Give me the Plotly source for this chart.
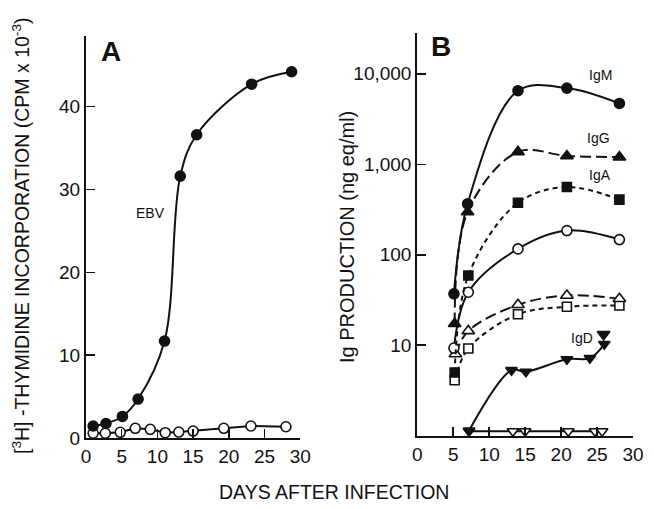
import plotly.graph_objects as go

# ---------------- Panel A data ----------------
ebv_days = [1.0, 2.8, 5.1, 7.3, 11.0, 13.2, 15.5, 23.2, 28.8]
ebv_vals = [1.45, 1.75, 2.6, 4.7, 11.7, 31.6, 36.6, 42.7, 44.2]
ctl_days = [1.0, 2.7, 4.8, 6.9, 9.0, 11.1, 13.0, 15.0, 19.3, 23.1, 28.0]
ctl_vals = [0.57, 0.57, 0.69, 1.17, 1.05, 0.64, 0.72, 0.84, 1.17, 1.45, 1.36]

# ---------------- Panel B data ----------------
igm_days = [5.1, 7.0, 14.0, 20.8, 28.1]
igm_vals = [37, 365, 6500, 6950, 4700]
igg_days = [5.2, 7.0, 14.0, 20.8, 28.1]
igg_vals = [17.3, 297, 1370, 1236, 1200]
iga_days = [5.2, 7.1, 14.0, 20.8, 28.1]
iga_vals = [5.0, 59, 375, 560, 407]
oc_days = [5.1, 7.1, 14.0, 20.8, 28.1]
oc_vals = [9.3, 38.5, 116, 185, 147]
ot_days = [5.3, 7.1, 14.0, 20.8, 28.1]
ot_vals = [8.0, 14.4, 28, 35.5, 32.6]
os_days = [5.2, 7.1, 14.0, 20.8, 28.1]
os_vals = [4.1, 9.2, 22, 26.6, 27.5]
igd_days = [7.2, 13.1, 15.1, 20.8, 24.0, 26.0]
igd_vals = [1.14, 5.3, 5.1, 7.0, 7.2, 10.3]
igd_extra_day = [25.9]
igd_extra_val = [13.2]
igdo_days = [7.2, 13.3, 15.0, 21.0, 24.7, 25.7]
igdo_vals = [1.12, 1.12, 1.12, 1.12, 1.12, 1.12]

x_ticks = [0, 5, 10, 15, 20, 25, 30]
a_yticks = [0, 10, 20, 30, 40]
b_yticks = [10, 100, 1000, 10000]
b_yticktext = ["10", "100", "1,000", "10,000"]

FONT = "Liberation Sans, Arial, Helvetica, sans-serif"
BLACK = "#111111"

fig = go.Figure()

def add(x, y, xa, ya, symbol, filled, dash="solid", size=10, lines=True, shape="spline"):
    fig.add_trace(go.Scatter(
        x=x, y=y, xaxis=xa, yaxis=ya,
        mode="lines+markers" if lines else "markers",
        line=dict(color=BLACK, width=2, dash=dash, shape=shape, smoothing=1.0),
        marker=dict(symbol=symbol, size=size,
                    color=BLACK if filled else "white",
                    line=dict(color=BLACK, width=1.6)),
        cliponaxis=False, showlegend=False))

# Panel A
add(ctl_days, ctl_vals, "x", "y", "circle", False, shape="linear", size=10)
add(ebv_days, ebv_vals, "x", "y", "circle", True, size=10)

# Panel B
add(os_days, os_vals, "x2", "y2", "square", False, dash="5px,4px", size=9)
add(ot_days, ot_vals, "x2", "y2", "triangle-up", False, dash="11px,5px", size=11)
add(oc_days, oc_vals, "x2", "y2", "circle", False, size=10)
add(iga_days, iga_vals, "x2", "y2", "square", True, dash="5px,4px", size=9)
add(igg_days, igg_vals, "x2", "y2", "triangle-up", True, dash="11px,5px", size=11)
add(igm_days, igm_vals, "x2", "y2", "circle", True, size=10)
add(igdo_days, igdo_vals, "x2", "y2", "triangle-down", False, shape="linear", size=10)
add(igd_days, igd_vals, "x2", "y2", "triangle-down", True, size=10)
add(igd_extra_day, igd_extra_val, "x2", "y2", "triangle-down", True, size=11, lines=False)

axis_common = dict(showline=True, linecolor=BLACK, linewidth=2, showgrid=False,
                   zeroline=False, ticks="inside", ticklen=9, tickwidth=1.5,
                   automargin=False,
                   tickcolor=BLACK, tickfont=dict(family=FONT, size=19, color=BLACK))

fig.update_layout(
    width=654, height=509,
    margin=dict(l=0, r=0, t=0, b=0),
    paper_bgcolor="white", plot_bgcolor="white",
    hovermode=False,
    xaxis=dict(domain=[0.1315, 0.459], range=[0, 30], tickvals=x_ticks,
               anchor="y", **axis_common),
    yaxis=dict(domain=[0.1395, 0.929], range=[0, 48.5], tickvals=a_yticks,
               anchor="x", **axis_common),
    xaxis2=dict(domain=[0.638, 0.968], range=[0, 30], tickvals=x_ticks,
                anchor="y2", **axis_common),
    yaxis2=dict(domain=[0.144, 0.935], type="log", range=[0, 4.45],
                tickvals=b_yticks, ticktext=b_yticktext, anchor="x2", **axis_common),
)

ann = [
    dict(text="<b>A</b>", x=3.5, y=46.6, xref="x", yref="y", font=dict(size=28)),
    dict(text="<b>B</b>", x=3.3, y=4.30, xref="x2", yref="y2", font=dict(size=28)),
    dict(text="EBV", x=9.0, y=27.1, xref="x", yref="y", font=dict(size=14)),
    dict(text="IgM", x=25.5, y=3.99, xref="x2", yref="y2", font=dict(size=14)),
    dict(text="IgG", x=25.2, y=3.29, xref="x2", yref="y2", font=dict(size=14)),
    dict(text="IgA", x=25.4, y=2.88, xref="x2", yref="y2", font=dict(size=14)),
    dict(text="IgD", x=22.9, y=1.08, xref="x2", yref="y2", font=dict(size=14)),
    dict(text="DAYS AFTER INFECTION", x=334 / 654, y=1 - 492 / 509,
         xref="paper", yref="paper", font=dict(size=19.5)),
    dict(text="[<sup>3</sup>H] -THYMIDINE INCORPORATION (CPM x 10<sup>-3</sup>)",
         x=21 / 654, y=1 - 236 / 509, xref="paper", yref="paper",
         textangle=-90, font=dict(size=19.5)),
    dict(text="Ig PRODUCTION (ng eq/ml)", x=347 / 654, y=1 - 237 / 509,
         xref="paper", yref="paper", textangle=-90, font=dict(size=20)),
]
for a in ann:
    a.setdefault("showarrow", False)
    a["font"] = dict(family=FONT, color=BLACK, **a["font"])
    a["xanchor"] = "center"
    a["yanchor"] = "middle"
    fig.add_annotation(**a)

fig.write_html(
    "out.html",
    config={"displayModeBar": False, "staticPlot": True},
    post_script="document.body.style.margin='0px';document.body.style.padding='0px';",
)
